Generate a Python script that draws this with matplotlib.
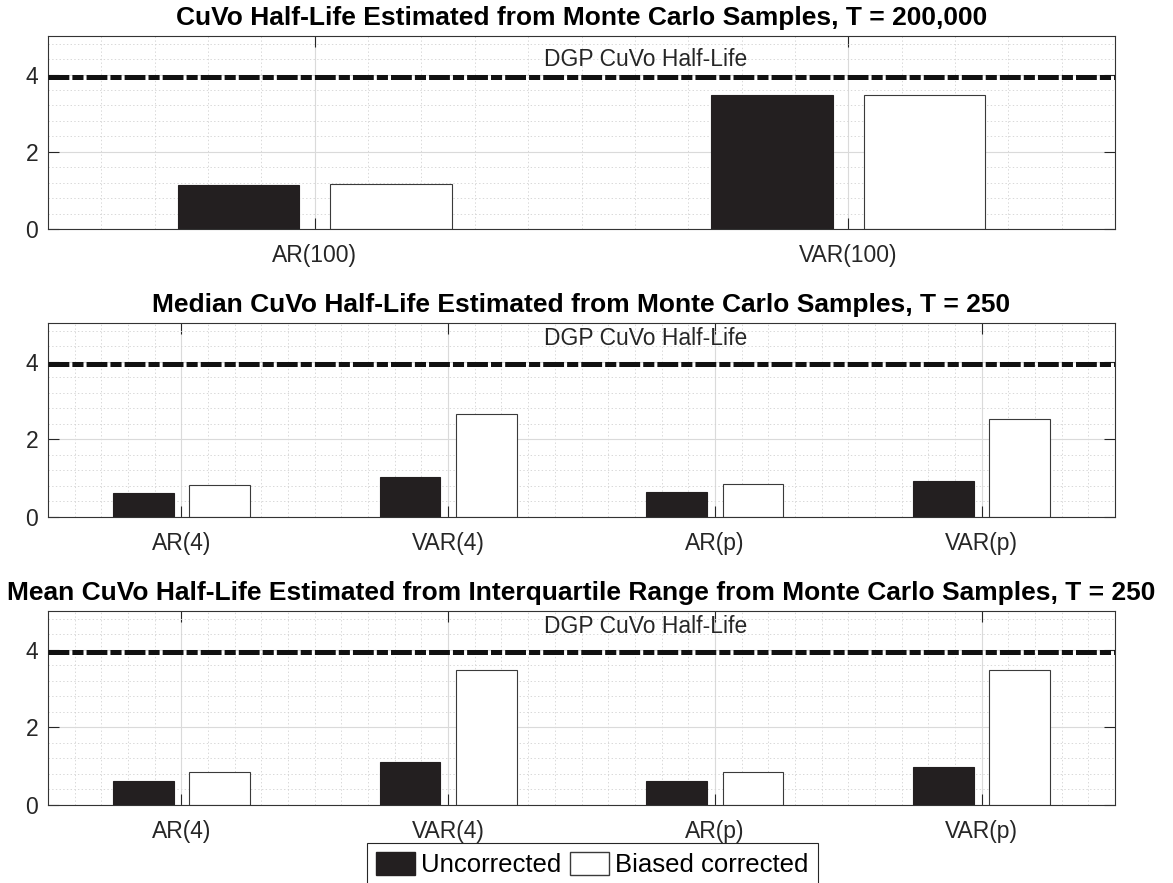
import numpy as np
import matplotlib
matplotlib.use('Agg')
import matplotlib.pyplot as plt
from matplotlib.ticker import MultipleLocator
from matplotlib.patches import Patch

plt.rcParams['font.family'] = ['Liberation Sans', 'DejaVu Sans']
plt.rcParams['lines.scale_dashes'] = False

# data
cats_top = ['AR(100)', 'VAR(100)']
unc_top = [1.15, 3.46]
bc_top = [1.16, 3.48]

cats = ['AR(4)', 'VAR(4)', 'AR(p)', 'VAR(p)']
unc_median = [0.62, 1.04, 0.65, 0.94]
bc_median = [0.82, 2.65, 0.84, 2.52]
unc_iqr = [0.63, 1.10, 0.63, 0.97]
bc_iqr = [0.84, 3.48, 0.86, 3.49]

dgp_half_life = 3.94
series_names = ['Uncorrected', 'Biased corrected']
titles = ['CuVo Half-Life Estimated from Monte Carlo Samples, T = 200,000',
          'Median CuVo Half-Life Estimated from Monte Carlo Samples, T = 250',
          'Mean CuVo Half-Life Estimated from Interquartile Range from Monte Carlo Samples, T = 250']

W, H = 1173, 883
fig = plt.figure(figsize=(W / 100, H / 100), dpi=100)

def rect(l, t, r, b):
    return [l / W, 1 - b / H, (r - l) / W, (b - t) / H]

black = '#231f20'
edge = '#3a3a3a'
bw = 0.2286   # matlab grouped bar width
off = 0.1429

def draw(ax, labels, unc, bc, title, text_y):
    x = np.arange(1, len(labels) + 1)
    ax.bar(x - off, unc, bw, color=black, edgecolor=black, linewidth=0.8, zorder=2)
    ax.bar(x + off, bc, bw, color='white', edgecolor=edge, linewidth=0.8, zorder=2)
    ln = ax.axhline(dgp_half_life, color='#111111', linewidth=3.6, zorder=3)
    ln.set_dashes([15, 2.2, 8, 2.2])
    ax.text(0.56, text_y, 'DGP CuVo Half-Life', transform=ax.get_yaxis_transform(),
            ha='center', va='center', fontsize=16.5, color='#262626')
    ax.set_xlim(0.5, len(labels) + 0.5)
    ax.set_ylim(0, 5)
    ax.set_xticks(x, labels)
    ax.set_yticks([0, 2, 4])
    ax.xaxis.set_minor_locator(MultipleLocator(0.1))
    ax.yaxis.set_minor_locator(MultipleLocator(0.4))
    ax.grid(which='major', color='#dadada', linewidth=0.8, linestyle='-')
    ax.grid(which='minor', color='#d2d2d2', linewidth=0.6, linestyle=':')
    ax.set_axisbelow(True)
    ax.tick_params(which='major', direction='in', length=7.7, width=0.8, top=True, right=True,
                   labelsize=16.5, colors='#262626', pad=7)
    ax.tick_params(axis='x', which='major', pad=11)
    ax.tick_params(which='minor', length=0, top=True, right=True)
    for s in ax.spines.values():
        s.set_color('#333333')
        s.set_linewidth(0.8)
    ax.set_title(title, fontsize=19, fontweight='bold', pad=8)

ax1 = fig.add_axes(rect(48, 36, 1115, 229))
draw(ax1, cats_top, unc_top, bc_top, titles[0], 4.38)

ax2 = fig.add_axes(rect(48, 323, 1115, 517))
draw(ax2, cats, unc_median, bc_median, titles[1], 4.6)

ax3 = fig.add_axes(rect(48, 611, 1115, 805))
draw(ax3, cats, unc_iqr, bc_iqr, titles[2], 4.6)

handles = [Patch(facecolor=black, edgecolor=black), Patch(facecolor='white', edgecolor=edge)]
leg = fig.legend(handles, series_names, loc='upper left', bbox_to_anchor=(367 / W, 1 - 843 / H),
                 ncol=2, fontsize=18.5, frameon=True, fancybox=False, edgecolor='#262626',
                 framealpha=1, borderpad=0.35, handlelength=1.5, handleheight=1.0,
                 handletextpad=0.25, columnspacing=0.35, borderaxespad=0)
leg.get_frame().set_linewidth(0.8)

fig.savefig('out.png', dpi=100)
